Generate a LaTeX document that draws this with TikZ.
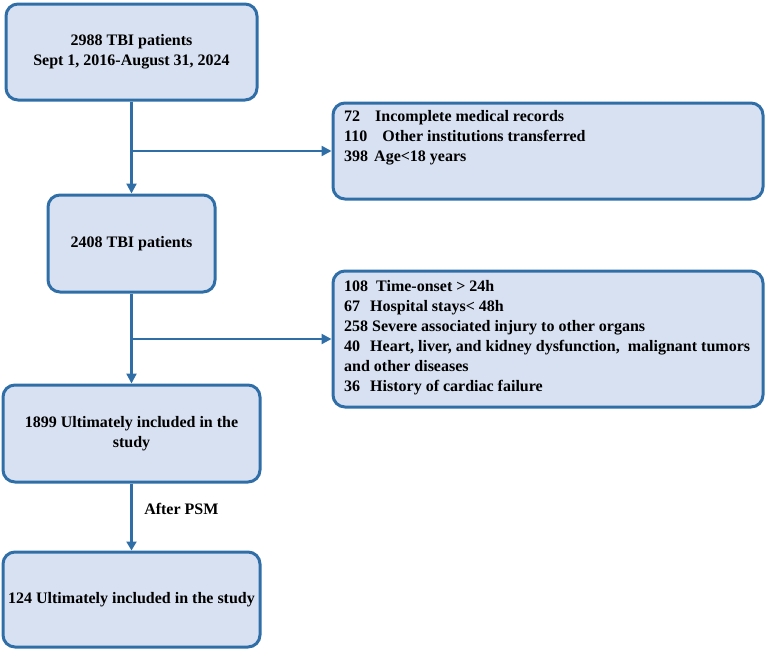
\documentclass[tikz,border=0pt]{standalone}
\usepackage{fontspec}
\setmainfont{Liberation Serif}
\usetikzlibrary{arrows.meta}
\definecolor{boxfill}{RGB}{216,225,241}
\definecolor{boxline}{RGB}{48,110,168}
\begin{document}
\begin{tikzpicture}[x=1pt,y=-1pt,
  box/.style={draw=boxline, fill=boxfill, line width=3pt, rounded corners=12pt, inner sep=4pt,
    align=center, font=\fontsize{16}{20}\selectfont\bfseries},
  listtext/.style={inner sep=0pt, anchor=north west, align=left,
    font=\fontsize{16}{20}\selectfont\bfseries},
  arr/.style={draw=boxline, line width=2.2pt, -{Triangle[length=10pt,width=10pt]}},
  arrthick/.style={draw=boxline, line width=3.5pt, -{Triangle[length=9pt,width=10pt]}},
  lbl/.style={font=\fontsize{16}{20}\selectfont\bfseries, inner sep=0pt}
]
\useasboundingbox (0,0) rectangle (767,653);

\node[box, minimum width=251pt, minimum height=96pt] (b1) at (131.5,52)
  {2988 TBI patients\\Sept 1, 2016-August 31, 2024};
\node[box, minimum width=430pt, minimum height=96pt] (r1) at (548,151) {};
\node[listtext] (t1) at (344,110)
  {72\hspace{11pt} Incomplete medical records\\
   110\hspace{11pt} Other institutions transferred\\
   398\hspace{2pt} Age<18 years};

\node[box, minimum width=167pt, minimum height=97pt] (b3) at (131.5,243.5) {2408 TBI patients};
\node[box, minimum width=430pt, minimum height=136pt] (r2) at (548,339) {};
\node[listtext] (t2) at (344,280)
  {108\hspace{4pt} Time-onset > 24h\\
   67\hspace{6pt} Hospital stays< 48h\\
   258 Severe associated injury to other organs\\
   40\hspace{6pt} Heart, liver, and kidney dysfunction,\hspace{4pt} malignant tumors\\
   and other diseases\\
   36\hspace{6pt} History of cardiac failure};

\node[box, minimum width=257pt, minimum height=97pt] (b5) at (131.5,433.5)
  {1899 Ultimately included in the\\study};
\node[box, minimum width=257pt, minimum height=95pt] (b6) at (131.5,599.5)
  {124 Ultimately included in the study};

\draw[arr] (b1) -- (b3);
\coordinate (j1) at (b1.south |- r1.west);
\draw[arr] (j1) -- (r1.west);
\draw[arr] (b3) -- (b5);
\coordinate (j2) at (b3.south |- r2.west);
\draw[arr] (j2) -- (r2.west);
\draw[arrthick] (b5) -- node[lbl, right=11pt, pos=0.38] {After PSM} (b6);
\end{tikzpicture}
\end{document}
